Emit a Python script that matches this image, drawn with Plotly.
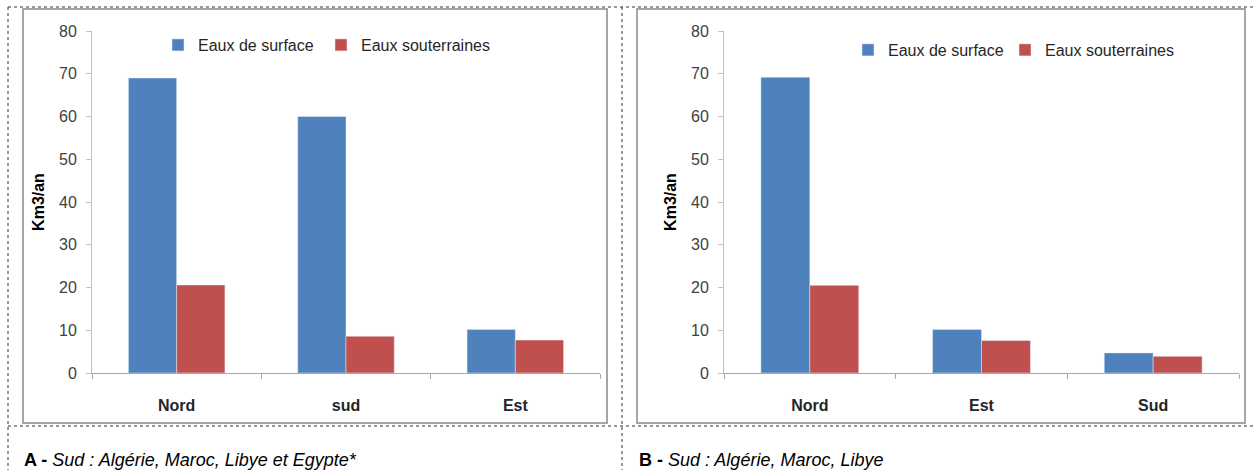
import plotly.graph_objects as go

W, H = 1255, 470

# ---- data ----
cats_a = ["Nord", "sud", "Est"]
surface_a = [69.0, 60.0, 10.2]
souterr_a = [20.6, 8.6, 7.7]

cats_b = ["Nord", "Est", "Sud"]
surface_b = [69.2, 10.2, 4.7]
souterr_b = [20.5, 7.6, 3.9]

series_names = ["Eaux de surface", "Eaux souterraines"]
y_ticks = [0, 10, 20, 30, 40, 50, 60, 70, 80]
y_title = "Km3/an"
caption_a = "<b>A - </b><i>Sud : Algérie, Maroc, Libye et Egypte*</i>"
caption_b = "<b>B - </b><i>Sud : Algérie, Maroc, Libye</i>"

BLUE = "#4F81BD"
RED = "#C0504D"
FONT = "Liberation Sans"


def px(x):
    return x / W


def py(y):
    return 1 - y / H


fig = go.Figure()
fig.add_trace(go.Bar(x=cats_a, y=surface_a, name=series_names[0], marker_color=BLUE,
                     xaxis="x", yaxis="y", legend="legend", showlegend=True))
fig.add_trace(go.Bar(x=cats_a, y=souterr_a, name=series_names[1], marker_color=RED,
                     xaxis="x", yaxis="y", legend="legend2", showlegend=True))
fig.add_trace(go.Bar(x=cats_b, y=surface_b, name=series_names[0], marker_color=BLUE,
                     xaxis="x2", yaxis="y2", legend="legend3", showlegend=True))
fig.add_trace(go.Bar(x=cats_b, y=souterr_b, name=series_names[1], marker_color=RED,
                     xaxis="x2", yaxis="y2", legend="legend4", showlegend=True))

tickfont = dict(family=FONT, size=16, color="#404040")
xtickfont = dict(family=FONT, size=16, color="#262626", weight="bold")

yaxis_common = dict(
    range=[0, 80], tickvals=y_ticks, ticks="outside", ticklen=5, tickcolor="#BFBFBF",
    showline=True, linecolor="#BFBFBF", linewidth=1, showgrid=False, zeroline=False,
    tickfont=tickfont, ticklabelstandoff=6, automargin=False,
    title=dict(text=y_title, font=dict(family=FONT, size=16, color="#000", weight="bold"),
               standoff=10),
)
xaxis_common = dict(
    type="category", tickson="boundaries", ticks="outside", ticklen=5, tickcolor="#A6A6A6",
    showline=True, linecolor="#A6A6A6", linewidth=1, showgrid=False, automargin=False,
    tickfont=xtickfont, ticklabelstandoff=18,
)


def leg(xpix, ypix):
    return dict(orientation="h", x=px(xpix), y=py(ypix), xanchor="left", yanchor="middle",
                font=dict(family=FONT, size=16, color="#262626"),
                bgcolor="rgba(0,0,0,0)", borderwidth=0)


fig.update_layout(
    width=W, height=H, margin=dict(l=0, r=0, t=0, b=0, pad=0), autosize=False,
    paper_bgcolor="white", plot_bgcolor="white", showlegend=True,
    barmode="group", bargap=0.43, bargroupgap=0,
    font=dict(family=FONT),
    xaxis=dict(domain=[px(92), px(600)], anchor="y", **xaxis_common),
    yaxis=dict(domain=[py(373), py(31)], anchor="x", **yaxis_common),
    xaxis2=dict(domain=[px(724), px(1239)], anchor="y2", **xaxis_common),
    yaxis2=dict(domain=[py(373), py(31)], anchor="x2", **yaxis_common),
    legend=leg(158, 45),
    legend2=leg(321, 45),
    legend3=leg(848, 50),
    legend4=leg(1005, 50),
)

shapes = []
# chart frames
for x0, x1 in [(23, 607), (637, 1245)]:
    shapes.append(dict(type="rect", xref="paper", yref="paper",
                       x0=px(x0), x1=px(x1), y0=py(423), y1=py(9),
                       line=dict(color="#A6A6A6", width=2), fillcolor="rgba(0,0,0,0)", layer="below"))
# dotted table lines
dot = dict(color="#333333", width=1, dash="dot")
shapes += [
    dict(type="line", xref="paper", yref="paper", x0=px(8), x1=1, y0=py(7), y1=py(7), line=dot),
    dict(type="line", xref="paper", yref="paper", x0=px(8), x1=1, y0=py(426), y1=py(426), line=dot),
    dict(type="line", xref="paper", yref="paper", x0=px(8), x1=px(8), y0=py(7), y1=0, line=dot),
    dict(type="line", xref="paper", yref="paper", x0=px(622), x1=px(622), y0=py(7), y1=0, line=dot),
]
fig.update_layout(shapes=shapes)

fig.add_annotation(text=caption_a, xref="paper", yref="paper", x=px(22), y=py(460),
                   xanchor="left", yanchor="middle", showarrow=False,
                   font=dict(family=FONT, size=18, color="#000"))
fig.add_annotation(text=caption_b, xref="paper", yref="paper", x=px(637), y=py(460),
                   xanchor="left", yanchor="middle", showarrow=False,
                   font=dict(family=FONT, size=18, color="#000"))

fig.write_html("out.html", config={"displayModeBar": False},
               post_script="document.body.style.margin='0';")
